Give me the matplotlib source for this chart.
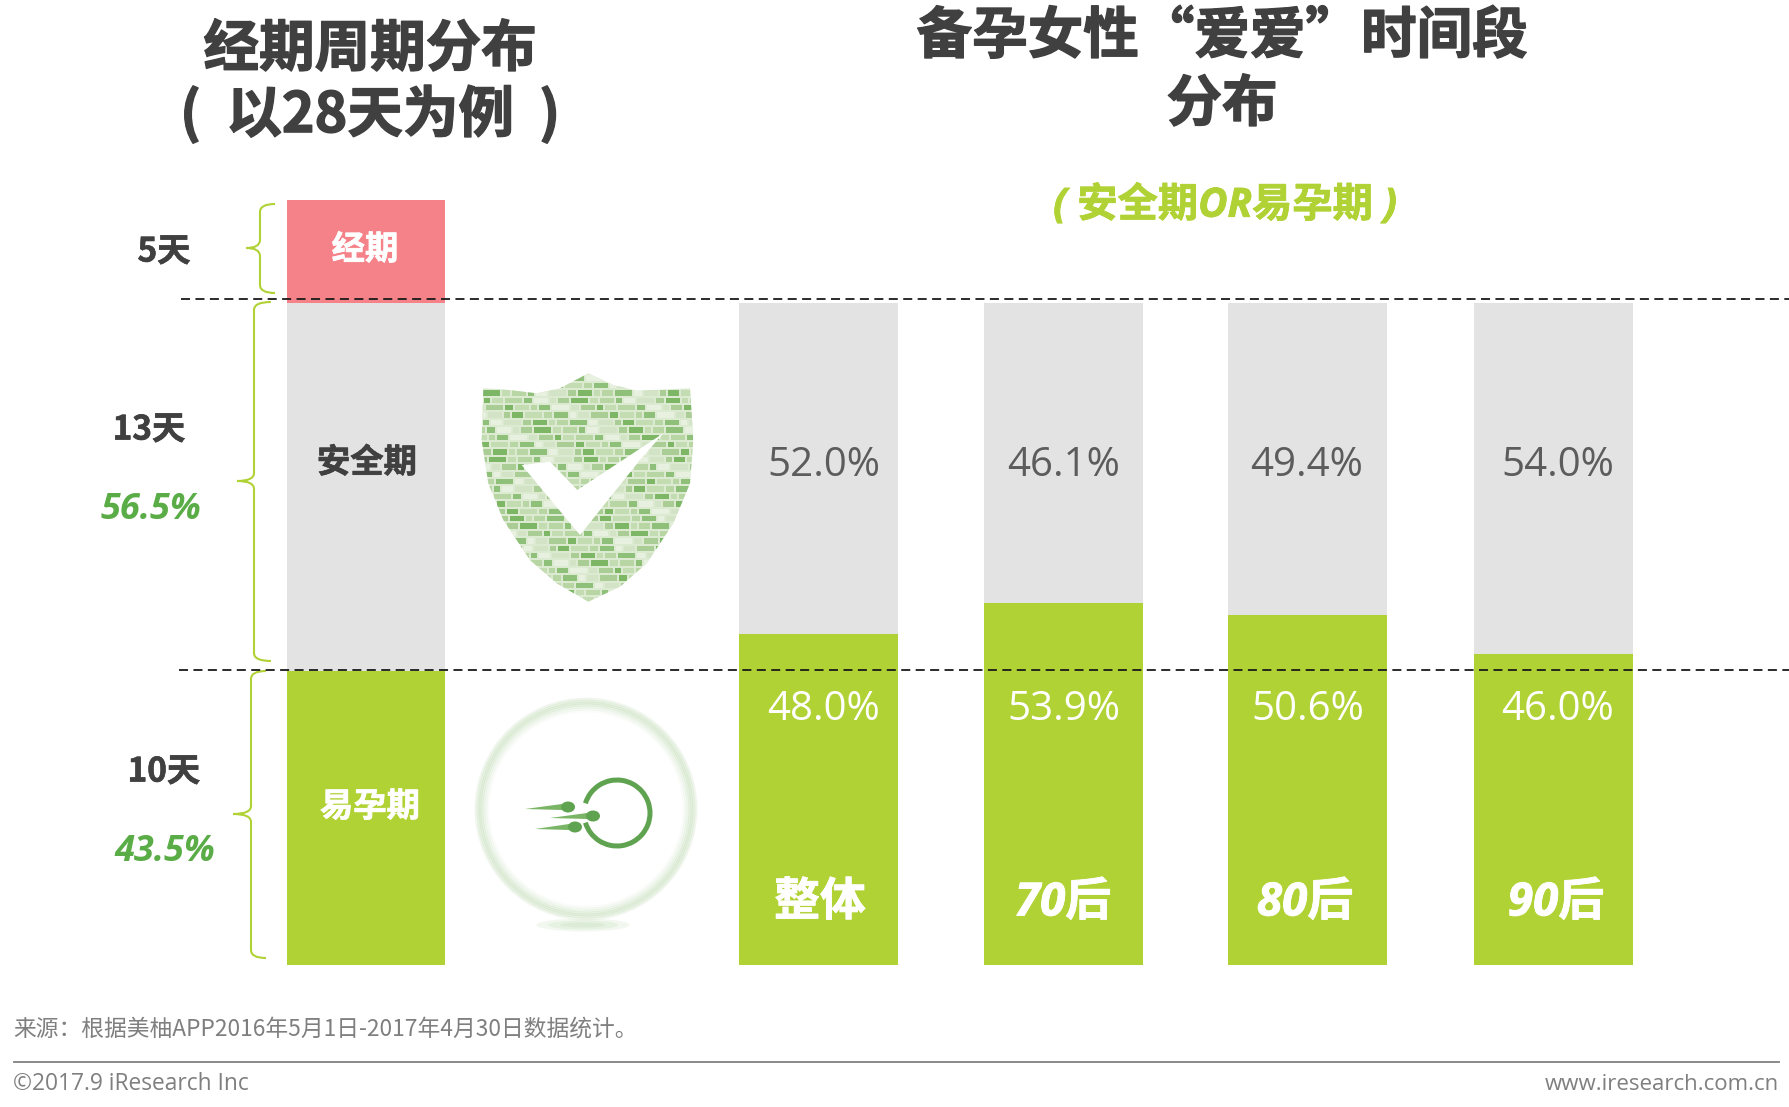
import matplotlib
matplotlib.use('Agg')
from matplotlib import pyplot as plt
from matplotlib import patheffects as pe
from matplotlib.patches import Polygon, Circle, Ellipse, PathPatch, Rectangle, Arc
from matplotlib.path import Path

W, H = 1789, 1107

CJK = 'Noto Sans CJK SC'
LATIN = 'Open Sans'
plt.rcParams['font.family'] = [CJK, 'DejaVu Sans']

DARK = '#404040'
GREY_TXT = '#5c5c5c'
LIME = '#b1d235'
GREY = '#e3e3e3'
PINK = '#f58289'
LEAF = '#5aad46'

# left column, bottom to top, heights in the units of the right hand bars
cycle_names = ['易孕期', '安全期', '经期']
cycle_drawn = [44.4, 55.6, 15.5]
cycle_colors = [LIME, GREY, PINK]
cycle_days = ['10天', '13天', '5天']
cycle_share = ['43.5%', '56.5%']

groups = ['整体', '70后', '80后', '90后']
fertile_labels = ['48.0%', '53.9%', '50.6%', '46.0%']
safe_labels = ['52.0%', '46.1%', '49.4%', '54.0%']
fertile_drawn = [50.0, 54.7, 52.8, 47.0]
safe_drawn = [50.0, 45.3, 47.2, 53.0]

fig = plt.figure(figsize=(W/100, H/100), dpi=100, facecolor='white')

# bar axes, bottom edge at y=965, one x unit is one bar step
ax = fig.add_axes([0, (H-965)/H, 1, (965-200)/H])
ax.set_xlim(-366/245.5, (W-366)/245.5)
ax.set_ylim(0, 115.5)
ax.axis('off')

bar_w = 158.7/245.5
bottom = 0
for val, col in zip(cycle_drawn, cycle_colors):
    ax.bar(0, val, bar_w, bottom=bottom, color=col, linewidth=0)
    bottom += val

pos = [1.842, 2.840, 3.836, 4.836]
ax.bar(pos, fertile_drawn, bar_w, color=LIME, linewidth=0)
ax.bar(pos, safe_drawn, bar_w, bottom=fertile_drawn, color=GREY, linewidth=0)

# overlay in pixel coordinates for text and decoration
ov = fig.add_axes([0, 0, 1, 1])
ov.set_xlim(0, W)
ov.set_ylim(H, 0)
ov.axis('off')
ov.patch.set_alpha(0)


def txt(x, y, s, size, color=DARK, weight='normal', ha='center', heavy=0, **kw):
    t = ov.text(x, y+4, s, fontsize=size, color=color, fontweight=weight, ha=ha,
                va='center', **kw)
    if heavy:
        t.set_path_effects([pe.withStroke(linewidth=heavy, foreground=color)])


# titles
txt(370, 46, '经期周期分布', 40, weight='bold', heavy=1)
txt(370, 111, '(  以28天为例  )', 40, weight='bold', heavy=1)
txt(1222, 33, '备孕女性“爱爱”时间段', 40, weight='bold', heavy=1)
txt(1222, 101, '分布', 40, weight='bold', heavy=1)
txt(1225, 201, '( 安全期OR易孕期 )', 29, color=LIME, weight='bold',
    style='italic', family=[LATIN, CJK], heavy=0.6)

# dashed separators
ov.plot([181, W], [299, 299], color='#1a1a1a', lw=1.3, dashes=(5, 3))
ov.plot([179, W], [670, 670], color='#1a1a1a', lw=1.3, dashes=(5, 3))


def brace(x_tip, x_spine, x_end, y_top, y_mid, y_bot):
    r = 8
    verts = [(x_end, y_top), (x_spine, y_top), (x_spine, y_top+r),
             (x_spine, y_mid-r), (x_spine, y_mid), (x_tip, y_mid),
             (x_spine, y_mid), (x_spine, y_mid+r), (x_spine, y_bot-r),
             (x_spine, y_bot), (x_end, y_bot)]
    codes = [Path.MOVETO, Path.CURVE3, Path.CURVE3, Path.LINETO, Path.CURVE3,
             Path.CURVE3, Path.CURVE3, Path.CURVE3, Path.LINETO, Path.CURVE3,
             Path.CURVE3]
    ov.add_patch(PathPatch(Path(verts, codes), fill=False, ec=LIME, lw=1.5))


brace(246, 260, 275, 204, 248, 293)
brace(237, 254, 271, 302, 481, 661)
brace(233, 251, 266, 671, 814, 958)

# left column text
txt(164, 248, cycle_days[2], 24, weight='bold', heavy=0.5)
txt(149, 426, cycle_days[1], 24, weight='bold', heavy=0.5)
txt(164, 768, cycle_days[0], 24, weight='bold', heavy=0.5)
txt(151, 506, cycle_share[1], 26, color=LEAF, weight='bold', style='italic',
    family=LATIN)
txt(165, 848, cycle_share[0], 26, color=LEAF, weight='bold', style='italic',
    family=LATIN)
txt(365, 246, cycle_names[2], 24, color='white', weight='bold', heavy=0.5)
txt(367, 459, cycle_names[1], 24, weight='bold', heavy=0.5)
txt(370, 803, cycle_names[0], 24, color='white', weight='bold', heavy=0.5)

# right bars text
safe_x = [824, 1064, 1307, 1558]
fert_x = [824, 1064, 1308, 1558]
group_x = [820, 1063, 1305, 1556]
for i in range(len(groups)):
    txt(safe_x[i], 462, safe_labels[i], 29, color=GREY_TXT, family=LATIN)
    txt(fert_x[i], 706, fertile_labels[i], 29, color='white', family=LATIN)
    txt(group_x[i], 899, groups[i], 33, color='white', weight='bold',
        style='italic', family=[LATIN, CJK], heavy=0.6)

# shield icon, outline and tick measured in a 3x crop at (460, 350)
shield_crop = [(70, 115), (130, 118), (230, 130), (300, 115), (385, 70),
               (460, 105), (530, 122), (690, 115), (700, 270), (690, 400),
               (640, 520), (560, 640), (480, 710), (385, 755), (290, 700),
               (210, 630), (130, 510), (85, 400), (65, 270)]
check_crop = [(185, 345), (270, 335), (352, 420), (610, 250), (540, 330),
              (360, 555)]
shield = [(460+x/3, 350+y/3) for x, y in shield_crop]
check = [(460+x/3, 350+y/3) for x, y in check_crop]
outline = Polygon(shield, closed=True, fc='#dcead2', ec='none')
ov.add_patch(outline)
shades = ['#8fc07a', '#c3dcb2', '#a9cd94', '#e8f1e0', '#b8d6a4', '#7db665', '#d2e4c5']
widths = [11, 17, 8, 14, 6]
for row in range(0, 33):
    x = 468 + (row % 4)*5
    col = row
    while x < 705:
        w = widths[(col+row) % 5]
        b = Rectangle((x, 368+row*7.4), w, 5.4, fc=shades[(col*3+row) % 7], ec='none')
        ov.add_patch(b)
        b.set_clip_path(outline)
        x += w + 2
        col += 1
ov.add_patch(Polygon(check, closed=True, fc='white', ec='none'))

# fertile window icon
for r, lw, a in [(110, 2, 0.25), (108, 2, 0.4), (106, 2, 0.5), (104, 2, 0.4),
                 (102, 2, 0.28), (100, 2, 0.16), (98, 2, 0.08)]:
    ov.add_patch(Circle((586, 809), r, fill=False, ec='#c6dfbb', lw=lw, alpha=a))
for w, h, a in [(93, 13, 0.25), (70, 9, 0.35), (45, 5, 0.4)]:
    ov.add_patch(Ellipse((583, 925), w, h, fc='#cfe4c5', ec='none', alpha=a))
ov.add_patch(Arc((617, 813), 66, 66, theta1=197, theta2=523, ec='#5fa350', lw=3.6))
for hx, hy, tx in [(568, 807, 525), (593, 816, 550), (575, 827, 535)]:
    ov.add_patch(Polygon([(tx, hy+2), (hx-6, hy-3), (hx-6, hy+3)], closed=True,
                         fc='#7ab566', ec='none'))
    ov.add_patch(Ellipse((hx, hy), 14, 11, fc='#5fa350', ec='none'))

# footer
ov.plot([14, 1779], [1062, 1062], color='#808080', lw=1.3)
txt(13, 1025, '来源：根据美柚APP2016年5月1日-2017年4月30日数据统计。', 16.4,
    color='#7f7f7f', ha='left')
txt(13, 1080, '©2017.9 iResearch Inc', 16.4, color='#7f7f7f', ha='left', family=LATIN)
txt(1779, 1080, 'www.iresearch.com.cn', 16, color='#7f7f7f', ha='right', family=LATIN)

fig.savefig('out.png', dpi=100)
